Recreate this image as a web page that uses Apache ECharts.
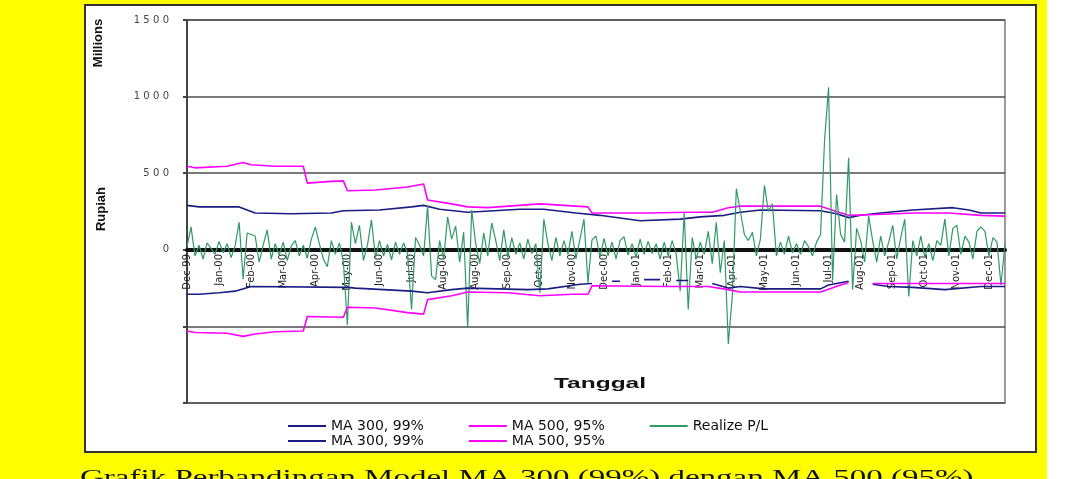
<!DOCTYPE html>
<html>
<head>
<meta charset="utf-8">
<script src="https://cdn.jsdelivr.net/npm/echarts@6.0.0/dist/echarts.min.js"></script>
<style>
  body { margin: 0; background: #fff; }
  #bg { position: absolute; left: 0; top: 0; width: 1047px; height: 479px; background: #ffff00; }
  #box { position: absolute; left: 84px; top: 4px; width: 949px; height: 445px; border: 2px solid #333; background: #fff; }
  #main { position: absolute; left: 0; top: 0; width: 1068px; height: 479px; }
</style>
</head>
<body>
<div id="bg"></div>
<div id="box"></div>
<div id="main"></div>
<script>
// tick labels of the date axis, one every 8 trading-day slots
const monthLabels = ['Dec-99', 'Jan-00', 'Feb-00', 'Mar-00', 'Apr-00', 'May-00', 'Jun-00', 'Jul-00', 'Aug-00', 'Aug-00',
  'Sep-00', 'Oct-00', 'Nov-00', 'Dec-00', 'Jan-01', 'Feb-01', 'Mar-01', 'Apr-01', 'May-01', 'Jun-01', 'Jul-01',
  'Aug-01', 'Sep-01', 'Oct-01', 'Nov-01', 'Dec-01']
const slotsPerLabel = 8
const slotCount = 205

// Realize P/L (Rupiah, millions), one row per label interval
const realizePL = [
  20, 150, -40, 30, -60, 45, 10, -30,
  55, -20, 40, -50, 25, 180, -190, 110,
  100, 90, -80, 30, 130, -60, 40, -35,
  50, -70, 25, 60, -40, 30, -55, 70,
  150, 40, -60, -110, 60, -30, 45, -80,
  -490, 180, 40, 160, -70, 30, 195, -50,
  60, -40, 35, -65, 50, -30, 45, -20,
  -390, 80, 30, -40, 285, -170, -195, 60,
  -60, 215, 70, 155, -80, 115, -510, 260,
  40, -90, 110, -40, 175, 60, -70, 130,
  -50, 80, -30, 45, -60, 70, -25, 40,
  -280, 200, 40, -70, 80, -40, 60, -30,
  120, -60, 70, 200, -215, 65, 90, -50,
  75, -40, 50, -60, 60, 85, -35, 40,
  -50, 70, -30, 55, -25, 40, -60, 50,
  -40, 60, -30, -270, 240, -390, 80, -60,
  50, -30, 120, -90, 180, -150, 60, -615,
  -300, 400, 250, 100, 60, 115, -40, 70,
  420, 250, 300, -40, 50, -30, 90, -20,
  40, -30, 60, 20, -40, 50, 100, 715,
  1060, -200, 360, 100, 50, 600, -260, 140,
  60, -80, 220, 60, -80, 90, -40, 50,
  160, -60, 80, 200, -305, 60, -40, 90,
  -50, 40, -70, 60, 30, 200, -40, 140,
  160, -30, 90, 50, -60, 120, 150, 120,
  -40, 80, 50, -230, 40
]

// band limits as [slot, value] break points, '-' = no data
const ma300Upper = [[0, 290], [3, 280], [13, 280], [17, 240], [26, 235], [36, 240], [39, 255], [48, 260], [56, 280],
  [59, 290], [63, 265], [70, 245], [83, 265], [89, 265], [97, 240], [103, 225], [113, 190], [123, 200], [128, 215],
  [134, 225], [138, 245], [143, 260], [158, 255], [162, 235], [165, 210], [168, 225], [173, 240], [181, 260],
  [191, 275], [195, 260], [198, 240], [204, 240]]
const ma500Upper = [[0, 545], [2, 535], [10, 545], [14, 570], [16, 555], [22, 545], [29, 545], [30, 435], [35, 445],
  [39, 450], [40, 385], [47, 390], [55, 410], [59, 430], [60, 325], [66, 300], [70, 280], [75, 275], [88, 300],
  [100, 280], [101, 240], [115, 240], [125, 245], [131, 245], [135, 275], [138, 285], [158, 285], [162, 250],
  [165, 225], [172, 230], [181, 240], [190, 240], [198, 225], [204, 220]]
const ma300Lower = [[0, -290], [3, -290], [8, -280], [12, -270], [16, -240], [40, -245], [42, -250], [56, -270],
  [60, -280], [66, -260], [70, -250], [85, -260], [90, -255], [98, -225], [101, -220], [102, '-'], [106, -205],
  [108, -205], [109, '-'], [114, -195], [118, -195], [119, '-'], [122, -200], [125, -200], [126, '-'], [131, -220],
  [135, -250], [138, -240], [144, -255], [158, -255], [160, -230], [165, -205], [166, '-'], [171, -225], [175, -240],
  [181, -245], [189, -260], [198, -240], [204, -240]]
const ma500Lower = [[0, -530], [2, -540], [10, -545], [14, -565], [17, -550], [22, -535], [29, -530], [30, -435],
  [39, -440], [40, -375], [47, -380], [55, -410], [59, -420], [60, -325], [66, -300], [70, -275], [80, -280],
  [88, -300], [96, -290], [100, -290], [101, -235], [120, -240], [130, -240], [135, -260], [138, -275], [158, -275],
  [163, -230], [165, -215], [166, '-'], [171, -220], [204, -220]]

const categories = []
for (let i = 0; i < slotCount; i++) {
  categories.push(monthLabels[Math.floor(i / slotsPerLabel)])
}

const BLUE = '#1c1c82'
const PINK = '#ff00ff'
const GREEN = '#2f9a68'

const legendText = { fontFamily: 'DejaVu Sans', fontSize: 14, color: '#111' }

const options = {
  animation: false,
  textStyle: { fontFamily: 'DejaVu Sans' },
  grid: {
    left: 187,
    right: 63,
    top: 20,
    bottom: 76,
    show: true,
    borderColor: '#9a9a9a',
    borderWidth: 2,
    backgroundColor: 'transparent'
  },
  legend: [
    {
      left: 283,
      top: 414,
      icon: 'rect',
      itemWidth: 38,
      itemHeight: 2,
      itemGap: 45,
      selectedMode: false,
      textStyle: legendText,
      data: ['MA 300, 99%', 'MA 500, 95%', 'Realize P/L']
    },
    {
      left: 283,
      top: 429,
      icon: 'rect',
      itemWidth: 38,
      itemHeight: 2,
      itemGap: 45,
      selectedMode: false,
      textStyle: legendText,
      formatter: (name) => name.trim(),
      data: ['MA 300, 99%\u00a0', 'MA 500, 95%\u00a0']
    }
  ],
  xAxis: {
    type: 'category',
    data: categories,
    boundaryGap: false,
    position: 'bottom',
    // date axis crosses at zero: pull it up from the grid bottom to the 0 line
    offset: -153,
    z: 3,
    axisLine: { onZero: false, lineStyle: { color: '#111', width: 4 } },
    axisTick: { show: false },
    axisLabel: {
      interval: (index) => index % slotsPerLabel === 0,
      rotate: 90,
      margin: 4,
      fontSize: 10,
      color: '#222'
    },
    splitLine: { show: false }
  },
  yAxis: {
    type: 'value',
    min: -1000,
    max: 1500,
    interval: 500,
    axisLine: { show: true, lineStyle: { color: '#444', width: 2 } },
    axisTick: { show: true, length: 4, lineStyle: { color: '#444', width: 2 } },
    axisLabel: {
      margin: 18,
      fontSize: 10,
      color: '#444',
      formatter: (v) => (v < 0 ? '' : String(v).split('').join('\u2004'))
    },
    splitLine: { lineStyle: { color: '#4d4d4d', width: 1.5 } }
  },
  graphic: [
    {
      type: 'text', x: 101, y: 209, rotation: Math.PI / 2,
      style: { text: 'Rupiah', font: 'bold 13px "Liberation Sans"', fill: '#111', align: 'center', verticalAlign: 'middle' }
    },
    {
      type: 'text', x: 98, y: 43, rotation: Math.PI / 2,
      style: { text: 'Millions', font: 'bold 13px "Liberation Sans"', fill: '#111', align: 'center', verticalAlign: 'middle' }
    },
    {
      type: 'text', x: 600, y: 384, scaleX: 1.75,
      style: { text: 'Tanggal', font: 'bold 14px "Liberation Sans"', fill: '#111', align: 'center', verticalAlign: 'middle' }
    },
    {
      type: 'text', x: 80, y: 467, scaleX: 1.5,
      style: { text: 'Grafik Perbandingan Model MA 300 (99%) dengan MA 500 (95%)', font: '22px "Liberation Serif"', fill: '#111', align: 'left', verticalAlign: 'top' }
    }
  ],
  series: [
    {
      name: 'MA 300, 99%',
      type: 'line',
      data: ma300Upper,
      showSymbol: false,
      color: BLUE,
      lineStyle: { color: BLUE, width: 1.6 }
    },
    {
      name: 'MA 500, 95%',
      type: 'line',
      data: ma500Upper,
      showSymbol: false,
      color: PINK,
      lineStyle: { color: PINK, width: 1.6 }
    },
    {
      name: 'Realize P/L',
      type: 'line',
      data: realizePL,
      showSymbol: false,
      color: GREEN,
      lineStyle: { color: GREEN, width: 1.2 }
    },
    {
      name: 'MA 300, 99%\u00a0',
      type: 'line',
      data: ma300Lower,
      showSymbol: false,
      color: BLUE,
      lineStyle: { color: BLUE, width: 1.6 }
    },
    {
      name: 'MA 500, 95%\u00a0',
      type: 'line',
      data: ma500Lower,
      showSymbol: false,
      color: PINK,
      lineStyle: { color: PINK, width: 1.6 }
    }
  ]
}

const chart = echarts.init(document.getElementById('main'))
chart.setOption(options)
</script>
</body>
</html>
